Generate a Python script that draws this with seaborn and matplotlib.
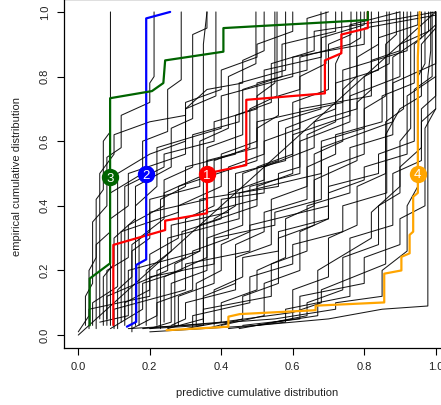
import numpy as np
import pandas as pd
import matplotlib
matplotlib.use("Agg")
import matplotlib.pyplot as plt
import seaborn as sns

# ---- data ----
black_curves = [
    [(0.0, 0.0), (1.0, 1.0)],
    [(0.0, 0.01), (0.03, 0.06), (0.03, 0.2), (0.05, 0.24), (0.05, 0.42), (0.07, 0.45), (0.07, 0.6), (0.09, 0.63), (0.09, 1.0)],
    [(0.02, 0.03), (0.02, 0.12), (0.04, 0.16), (0.04, 0.35), (0.08, 0.4), (0.08, 0.55), (0.12, 0.58), (0.12, 0.68), (0.2, 0.72), (0.2, 0.78), (0.212, 0.8), (0.212, 1.0)],
    [(0.05, 0.02), (0.05, 0.28), (0.09, 0.32), (0.09, 0.44), (0.18, 0.5), (0.18, 0.6), (0.25, 0.63), (0.25, 0.76), (0.288, 0.79), (0.288, 1.0)],
    [(0.07, 0.03), (0.07, 0.18), (0.1, 0.22), (0.1, 0.3), (0.16, 0.36), (0.16, 0.46), (0.26, 0.52), (0.26, 0.64), (0.32, 0.67), (0.32, 0.93), (0.36, 0.95), (0.36, 1.0)],
    [(0.09, 0.03), (0.09, 0.36), (0.14, 0.4), (0.14, 0.5), (0.3, 0.56), (0.3, 0.7), (0.385, 0.74), (0.385, 1.0)],
    [(0.11, 0.02), (0.11, 0.14), (0.15, 0.18), (0.15, 0.28), (0.2, 0.32), (0.2, 0.42), (0.34, 0.46), (0.34, 0.6), (0.42, 0.64), (0.42, 0.8), (0.497, 0.84), (0.497, 1.0)],
    [(0.13, 0.03), (0.13, 0.1), (0.2, 0.14), (0.2, 0.25), (0.28, 0.3), (0.28, 0.4), (0.4, 0.46), (0.4, 0.56), (0.5, 0.6), (0.5, 0.74), (0.55, 0.78), (0.55, 1.0)],
    [(0.15, 0.02), (0.22, 0.06), (0.22, 0.2), (0.3, 0.24), (0.3, 0.36), (0.38, 0.4), (0.38, 0.54), (0.48, 0.58), (0.48, 0.7), (0.556, 0.74), (0.556, 1.0)],
    [(0.17, 0.03), (0.17, 0.3), (0.24, 0.36), (0.24, 0.48), (0.32, 0.52), (0.32, 0.62), (0.45, 0.66), (0.45, 0.78), (0.58, 0.82), (0.58, 1.0)],
    [(0.2, 0.02), (0.26, 0.04), (0.26, 0.16), (0.36, 0.2), (0.36, 0.3), (0.46, 0.34), (0.46, 0.5), (0.56, 0.54), (0.56, 0.66), (0.679, 0.7), (0.679, 1.0)],
    [(0.22, 0.03), (0.22, 0.1), (0.32, 0.14), (0.32, 0.26), (0.42, 0.3), (0.42, 0.44), (0.52, 0.48), (0.52, 0.6), (0.62, 0.64), (0.62, 0.8), (0.693, 0.84), (0.693, 1.0)],
    [(0.25, 0.02), (0.35, 0.05), (0.35, 0.12), (0.44, 0.16), (0.44, 0.24), (0.54, 0.28), (0.54, 0.42), (0.64, 0.46), (0.64, 0.62), (0.72, 0.66), (0.72, 0.84), (0.737, 0.88), (0.737, 1.0)],
    [(0.27, 0.03), (0.27, 0.22), (0.34, 0.26), (0.34, 0.34), (0.5, 0.4), (0.5, 0.52), (0.6, 0.56), (0.6, 0.72), (0.7, 0.76), (0.7, 0.9), (0.763, 0.93), (0.763, 1.0)],
    [(0.3, 0.02), (0.4, 0.04), (0.4, 0.1), (0.5, 0.14), (0.5, 0.2), (0.58, 0.24), (0.58, 0.36), (0.66, 0.4), (0.66, 0.56), (0.74, 0.6), (0.74, 0.76), (0.779, 0.8), (0.779, 1.0)],
    [(0.33, 0.03), (0.33, 0.16), (0.4, 0.2), (0.4, 0.28), (0.48, 0.32), (0.48, 0.46), (0.62, 0.5), (0.62, 0.6), (0.76, 0.66), (0.76, 0.9), (0.79, 0.92), (0.79, 1.0)],
    [(0.36, 0.02), (0.46, 0.05), (0.46, 0.12), (0.56, 0.16), (0.56, 0.3), (0.66, 0.34), (0.66, 0.48), (0.78, 0.54), (0.78, 0.72), (0.82, 0.76), (0.82, 1.0)],
    [(0.4, 0.03), (0.52, 0.06), (0.52, 0.16), (0.62, 0.2), (0.62, 0.32), (0.7, 0.36), (0.7, 0.52), (0.8, 0.56), (0.8, 0.7), (0.86, 0.74), (0.86, 0.9), (0.89, 0.93), (0.89, 1.0)],
    [(0.45, 0.02), (0.6, 0.05), (0.6, 0.14), (0.7, 0.18), (0.7, 0.3), (0.78, 0.34), (0.78, 0.46), (0.86, 0.5), (0.86, 0.66), (0.91, 0.7), (0.91, 1.0)],
    [(0.5, 0.03), (0.64, 0.06), (0.64, 0.1), (0.74, 0.14), (0.74, 0.24), (0.84, 0.28), (0.84, 0.4), (0.9, 0.44), (0.9, 0.6), (0.93, 0.64), (0.93, 1.0)],
    [(0.14, 0.02), (0.3, 0.03), (0.55, 0.05), (0.72, 0.08), (0.72, 0.1), (0.85, 0.12), (0.85, 0.2), (0.92, 0.26), (0.92, 0.4), (0.95, 0.46), (0.95, 0.8), (0.97, 0.84), (0.97, 1.0)],
    [(0.2, 0.01), (0.5, 0.03), (0.7, 0.05), (0.85, 0.08), (0.978, 0.09), (0.978, 0.8), (0.986, 0.88), (0.986, 1.0)],
    [(0.18, 0.02), (0.4, 0.04), (0.6, 0.07), (0.68, 0.1), (0.68, 0.14), (0.86, 0.22), (0.86, 0.62), (0.9, 0.7), (0.96, 0.74), (0.96, 0.9), (1.0, 0.95), (1.0, 1.0)],
    [(0.08, 0.05), (0.08, 0.12), (0.25, 0.2), (0.25, 0.3), (0.45, 0.36), (0.45, 0.44), (0.68, 0.5), (0.68, 0.58), (0.88, 0.66), (0.88, 0.86), (0.96, 0.92), (0.96, 1.0)],
    [(0.12, 0.04), (0.12, 0.32), (0.28, 0.38), (0.28, 0.46), (0.5, 0.54), (0.5, 0.66), (0.74, 0.72), (0.74, 0.82), (0.92, 0.88), (0.92, 1.0)],
    [(0.16, 0.03), (0.16, 0.4), (0.22, 0.46), (0.22, 0.58), (0.4, 0.64), (0.4, 0.74), (0.6, 0.8), (0.6, 0.86), (0.8, 0.9), (0.8, 0.95), (1.0, 0.99)],
    [(0.1, 0.02), (0.1, 0.08), (0.3, 0.14), (0.3, 0.22), (0.48, 0.26), (0.48, 0.34), (0.7, 0.4), (0.7, 0.46), (0.84, 0.5), (0.84, 0.56), (0.94, 0.6), (0.94, 0.76), (0.99, 0.8), (0.99, 1.0)],
    [(0.23, 0.02), (0.23, 0.42), (0.3, 0.46), (0.3, 0.52), (0.44, 0.56), (0.44, 0.68), (0.54, 0.72), (0.54, 0.84), (0.66, 0.88), (0.66, 0.94), (0.9, 0.98), (1.0, 1.0)],
    [(0.28, 0.03), (0.28, 0.12), (0.38, 0.16), (0.38, 0.36), (0.44, 0.4), (0.44, 0.5), (0.58, 0.54), (0.58, 0.64), (0.72, 0.7), (0.72, 0.78), (0.84, 0.82), (0.84, 0.92), (0.95, 0.96), (0.95, 1.0)],
    [(0.35, 0.04), (0.35, 0.08), (0.54, 0.12), (0.54, 0.22), (0.64, 0.26), (0.64, 0.4), (0.76, 0.44), (0.76, 0.58), (0.88, 0.62), (0.88, 0.78), (1.0, 0.84), (1.0, 1.0)],
    [(0.06, 0.04), (0.14, 0.06), (0.14, 0.2), (0.34, 0.26), (0.34, 0.42), (0.56, 0.46), (0.56, 0.5), (0.62, 0.52), (0.62, 0.7), (0.82, 0.74), (0.82, 0.85), (0.9, 0.88), (0.9, 1.0)],
    [(0.19, 0.03), (0.19, 0.2), (0.26, 0.26), (0.26, 0.34), (0.42, 0.38), (0.42, 0.52), (0.52, 0.56), (0.52, 0.82), (0.68, 0.86), (0.68, 0.92), (0.8, 0.96), (0.8, 1.0)],
    [(0.42, 0.02), (0.58, 0.04), (0.58, 0.08), (0.76, 0.12), (0.76, 0.3), (0.88, 0.34), (0.88, 0.5), (0.96, 0.54), (0.96, 0.7), (1.0, 0.74), (1.0, 1.0)],
    [(0.15, 0.01), (0.15, 0.26), (0.2, 0.3), (0.2, 0.38), (0.36, 0.42), (0.36, 0.58), (0.46, 0.62), (0.46, 0.76), (0.57, 0.8), (0.57, 0.9), (0.72, 0.94), (0.72, 1.0)],
    [(0.04, 0.03), (0.04, 0.1), (0.11, 0.15), (0.11, 0.5), (0.2, 0.56), (0.3, 0.6), (0.3, 0.7), (0.36, 0.76), (0.46, 0.78), (0.46, 0.85), (0.52, 0.88), (0.52, 1.0)],
    [(0.2, 0.02), (0.35, 0.03), (0.35, 0.9), (0.36, 1.0)],
    [(0.03, 0.02), (0.03, 0.08), (0.2, 0.12), (0.2, 0.18), (0.38, 0.22), (0.38, 0.3), (0.55, 0.34), (0.55, 0.38), (0.68, 0.42), (0.68, 0.6), (0.8, 0.64), (0.8, 0.8), (0.87, 0.84), (0.87, 1.0)],
    [(0.24, 0.04), (0.24, 0.18), (0.36, 0.24), (0.36, 0.38), (0.5, 0.42), (0.5, 0.46), (0.6, 0.5), (0.6, 0.62), (0.76, 0.68), (0.76, 0.74), (0.9, 0.8), (0.9, 0.9), (0.98, 0.94), (0.98, 1.0)],
    [(0.32, 0.02), (0.32, 0.06), (0.48, 0.1), (0.48, 0.18), (0.6, 0.22), (0.6, 0.28), (0.74, 0.32), (0.74, 0.4), (0.863, 0.44), (0.863, 1.0)],
    [(0.46, 0.03), (0.62, 0.05), (0.62, 0.12), (0.8, 0.16), (0.8, 0.24), (0.9, 0.28), (0.9, 0.36), (0.97, 0.4), (0.97, 0.64), (1.0, 0.7)],
    [(0.13, 0.05), (0.13, 0.46), (0.24, 0.52), (0.24, 0.56), (0.38, 0.6), (0.38, 0.66), (0.5, 0.7), (0.5, 0.78), (0.64, 0.82), (0.64, 0.98), (0.7, 1.0)],
    [(0.09, 0.02), (0.18, 0.08), (0.18, 0.16), (0.29, 0.2), (0.29, 0.32), (0.4, 0.36), (0.4, 0.42), (0.52, 0.44), (0.52, 0.52), (0.66, 0.58), (0.66, 0.66), (0.78, 0.7), (0.78, 0.86), (0.84, 0.9), (0.84, 1.0)],
    [(0.26, 0.03), (0.3, 0.05), (0.3, 0.1), (0.44, 0.14), (0.44, 0.28), (0.52, 0.32), (0.52, 0.38), (0.64, 0.42), (0.64, 0.52), (0.72, 0.56), (0.72, 0.62), (0.85, 0.66), (0.85, 0.74), (0.94, 0.78), (0.94, 0.9), (1.0, 0.96)],
    [(0.08, 0.03), (0.08, 0.2), (0.14, 0.24), (0.14, 0.34), (0.24, 0.4), (0.24, 0.44), (0.36, 0.5), (0.36, 0.54), (0.5, 0.58), (0.5, 0.64), (0.56, 0.68), (0.56, 0.74), (0.62, 0.76), (0.62, 0.86), (0.76, 0.9), (0.76, 0.96), (0.9, 1.0)],
    [(0.06, 0.05), (0.06, 0.5), (0.1, 0.56), (0.1, 0.62), (0.2, 0.66), (0.3, 0.68), (0.3, 0.72), (0.4, 0.76), (0.4, 0.82), (0.5, 0.86), (0.5, 0.9), (0.6, 0.94), (0.6, 1.0)],
    [(0.55, 0.04), (0.67, 0.06), (0.67, 0.2), (0.82, 0.3), (0.82, 0.38), (0.9, 0.46), (0.9, 0.52), (0.96, 0.58), (0.96, 0.66), (1.0, 0.7), (1.0, 1.0)],
    [(0.38, 0.03), (0.38, 0.14), (0.46, 0.18), (0.46, 0.24), (0.56, 0.26), (0.56, 0.32), (0.7, 0.36), (0.7, 0.44), (0.8, 0.48), (0.8, 0.52), (0.92, 0.56), (0.92, 0.74), (1.0, 0.8)],
]

red_x = [0.098, 0.098, 0.243, 0.243, 0.36, 0.36, 0.47, 0.47, 0.69, 0.69, 0.736, 0.736, 0.81, 0.81]
red_y = [0.031, 0.279, 0.325, 0.354, 0.377, 0.5, 0.526, 0.728, 0.748, 0.85, 0.872, 0.93, 0.95, 1.0]
blue_x = [0.136, 0.162, 0.162, 0.19, 0.19, 0.19, 0.257]
blue_y = [0.026, 0.041, 0.217, 0.234, 0.5, 0.98, 1.0]
green_x = [0.032, 0.032, 0.089, 0.089, 0.089, 0.206, 0.238, 0.243, 0.406, 0.406, 0.81, 0.81]
green_y = [0.03, 0.175, 0.222, 0.49, 0.733, 0.755, 0.78, 0.85, 0.877, 0.95, 0.975, 1.0]
orange_x = [0.247, 0.42, 0.42, 0.452, 0.664, 0.664, 0.856, 0.856, 0.904, 0.904, 0.927, 0.927,
            0.937, 0.937, 0.95, 0.95, 0.95, 0.955]
orange_y = [0.015, 0.026, 0.057, 0.065, 0.077, 0.091, 0.101, 0.19, 0.2, 0.242, 0.253, 0.31,
            0.32, 0.428, 0.44, 0.5, 0.86, 1.0]

marker_labels = ["1", "2", "3", "4"]
marker_x = [0.36, 0.19, 0.089, 0.95]
marker_y = [0.498, 0.498, 0.489, 0.5]
marker_colors = ["#FF0000", "#0000FF", "#006400", "#FFA500"]

x_ticks = [0.0, 0.2, 0.4, 0.6, 0.8, 1.0]
y_ticks = [0.0, 0.2, 0.4, 0.6, 0.8, 1.0]
x_label = "predictive cumulative distribution"
y_label = "empirical cumulative distribution"

# ---- build long table for black curves ----
rows = []
for cid, pts in enumerate(black_curves):
    for order, (px, py) in enumerate(pts):
        rows.append({"curve": cid, "order": order, "x": px, "y": py})
df_black = pd.DataFrame(rows)

sns.set_theme(style="white")
plt.rcParams["font.family"] = ["Liberation Sans", "DejaVu Sans"]

fig = plt.figure(figsize=(4.41, 4.05), dpi=100)
ax = fig.add_axes([64 / 441, 57 / 405, 386 / 441, 349 / 405])

sns.lineplot(data=df_black, x="x", y="y", units="curve", estimator=None, sort=False,
             color="black", linewidth=0.75, alpha=0.9, ax=ax, legend=False)

for xs, ys, col in [(red_x, red_y, "#FF0000"), (blue_x, blue_y, "#0000FF"),
                    (green_x, green_y, "#006400"), (orange_x, orange_y, "#FFA500")]:
    d = pd.DataFrame({"x": xs, "y": ys, "o": range(len(xs))})
    sns.lineplot(data=d, x="x", y="y", estimator=None, sort=False, color=col,
                 linewidth=1.6, ax=ax, legend=False)

for lab, mx, my, mc in zip(marker_labels, marker_x, marker_y, marker_colors):
    ax.plot([mx], [my], marker="o", markersize=12.5, color=mc, markeredgewidth=0, zorder=5)
    ax.text(mx, my, lab, color="white", fontsize=9.5, ha="center", va="center_baseline", zorder=6)

ax.set_xlim(-0.04, 1.04)
ax.set_ylim(-0.04, 1.04)
ax.set_xticks(x_ticks)
ax.set_yticks(y_ticks)
ax.set_xticklabels([f"{t:.1f}" for t in x_ticks], fontsize=8, color="#222222")
ax.set_yticklabels([f"{t:.1f}" for t in y_ticks], fontsize=8, color="#222222",
                   rotation=90, va="center")
ax.tick_params(axis="both", direction="out", length=5, width=0.8, color="black",
               bottom=True, left=True, pad=5)
for s in ax.spines.values():
    s.set_visible(True)
    s.set_color("black")
    s.set_linewidth(0.9)
ax.set_xlabel("")
ax.set_ylabel("")
fig.text(256.7 / 441, 1 - 393 / 405, x_label, ha="center", va="center", fontsize=8, color="#222222")
fig.text(17 / 441, 1 - 177 / 405, y_label, ha="center", va="center", fontsize=8,
         rotation=90, color="#222222")
ax.grid(False)

fig.savefig("out.png", dpi=100)
